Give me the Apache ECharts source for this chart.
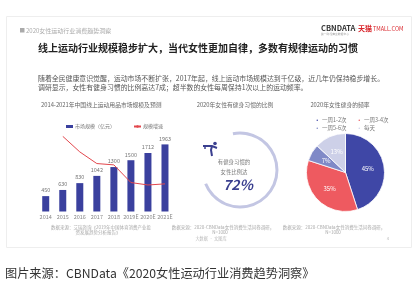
<!DOCTYPE html>
<html><head><meta charset="utf-8">
<script src="https://cdn.jsdelivr.net/npm/echarts@6/dist/echarts.min.js"></script>
<style>html,body{margin:0;padding:0;background:#fff}#c{width:417px;height:295px}</style>
</head><body><div id="c"></div>
<script>
// ---- data ----
const years = ['2014','2015','2016','2017','2018','2019E','2020E','2021E'];
const marketSize = [450, 630, 830, 1042, 1300, 1500, 1712, 1963];
const growthRate = [null, 40, 31.7, 25.5, 24.8, 15.4, 14.1, 14.7];
const habitShare = 72;
const freqNames = ['一周1-2次', '一周3-4次', '一周5-6次', '每天'];
const freqValues = [45, 35, 7, 13];

const F = '"Noto Sans CJK SC","Noto Sans",sans-serif';
const blue = '#3a409e', red = '#e2474d';
const pieColors = ['#3f47a6', '#ee5a60', '#7f89c7', '#cdd0e8'];

function txt(x, y, s, size, color, opt) {
  return Object.assign({ type: 'text', x: x, y: y, silent: true,
    style: Object.assign({ text: s, fontSize: size, fill: color, fontFamily: F,
      textVerticalAlign: 'middle', textAlign: 'left' }, (opt && opt.style) || {}) }, opt && opt.z ? { z: opt.z } : {});
}
const legPos = [[309.5, 112.5], [351.5, 112.5], [309.5, 120.5], [351.5, 120.5]];
const pieLegends = freqNames.map((n, i) => ({
  data: [n], left: legPos[i][0], top: legPos[i][1], icon: 'circle',
  itemWidth: 3.5, itemHeight: 3.5, textStyle: { fontSize: 5.5, color: '#777', padding: [0, 0, 0, -2] }
}));

const chart = echarts.init(document.getElementById('c'), null, { renderer: 'canvas' });
chart.setOption({
  animation: false,
  textStyle: { fontFamily: F },
  grid: [{ left: 37.2, width: 136.3, top: 136.3, height: 75.2 }],
  legend: [
    { data: [{ name: '市场规模（亿元）', icon: 'rect' }, { name: '规模增速' }],
      left: 61, top: 119, itemWidth: 7, itemHeight: 3, itemGap: 18,
      textStyle: { fontSize: 5, color: '#777', padding: [0, 0, 0, -3] } }
  ].concat(pieLegends),
  xAxis: [{ type: 'category', data: years, gridIndex: 0,
    axisLine: { show: false }, axisTick: { show: false },
    axisLabel: { fontSize: 5.5, color: '#888', margin: 3, interval: 0 } }],
  yAxis: [
    { type: 'value', min: 0, max: 2200, show: false, splitLine: { show: false } },
    { type: 'value', min: 0, max: 40, show: false, splitLine: { show: false } }
  ],
  series: [
    { name: '市场规模（亿元）', type: 'bar', data: marketSize, barWidth: 7,
      itemStyle: { color: blue },
      label: { show: true, position: 'top', fontSize: 5.5, color: '#777', distance: 3 } },
    { name: '规模增速', type: 'line', yAxisIndex: 1, data: growthRate, symbol: 'none',
      lineStyle: { color: red, width: 1 }, itemStyle: { color: red } },
    { name: 'ring', type: 'pie', center: [240, 170], radius: [35.5, 38.5], startAngle: 101,
      silent: true, label: { show: false }, labelLine: { show: false },
      data: [{ value: habitShare, itemStyle: { color: '#c3c6e3' } },
             { value: 100 - habitShare, itemStyle: { color: 'rgba(0,0,0,0)' } }] },
    { name: 'freq', type: 'pie', center: [345.5, 172.5], radius: [0, 39], startAngle: 90,
      itemStyle: { borderColor: '#fff', borderWidth: 0.8 },
      label: { show: true, position: 'inside', formatter: '{c}%', fontSize: 6, color: '#fff' },
      labelLine: { show: false },
      data: freqNames.map((n, i) => ({ name: n, value: freqValues[i], itemStyle: { color: pieColors[i] } })) }
  ],
  graphic: [
    { type: 'rect', shape: { x: 6.5, y: 16.5, width: 405, height: 231 }, style: { fill: 'none', stroke: '#eeeeee', lineWidth: 1 }, silent: true, z: -1 },
    { type: 'rect', shape: { x: 20, y: 28, width: 4.5, height: 4.5 }, style: { fill: '#aaa' }, silent: true },
    txt(26, 30.5, '2020女性运动行业消费趋势洞察', 6, '#aaa'),
    txt(321, 28, 'CBNDATA', 7.5, '#333', { style: { fontWeight: 'bold' } }),
    txt(321, 33.5, '第一财经商业数据中心', 2.8, '#999'),
    txt(353, 28.5, '·', 6, '#ccc'),
    txt(358, 28, '天猫', 7, '#d9262c', { style: { fontWeight: 'bold' } }),
    txt(373, 28.5, 'TMALL.COM', 5.5, '#d9262c'),
    txt(38, 48, '线上运动行业规模稳步扩大，当代女性更加自律，多数有规律运动的习惯', 10, '#222', { style: { fontWeight: 'bold' } }),
    txt(38, 78, '随着全民健康意识觉醒，运动市场不断扩张，2017年起，线上运动市场规模达到千亿级，近几年仍保持稳步增长。', 6.9, '#555'),
    txt(38, 87.5, '调研显示，女性有健身习惯的比例高达7成；超半数的女性每周保持1次以上的运动频率。', 6.9, '#555'),
    txt(41, 105, '2014-2021年中国线上运动用品市场规模及预测', 5.8, '#666'),
    txt(235, 105, '2020年女性有健身习惯的比例', 5.8, '#666', { style: { textAlign: 'center' } }),
    txt(340, 105, '2020年女性健身的频率', 5.8, '#666', { style: { textAlign: 'center' } }),
    // icon
    { type: 'circle', shape: { cx: 215, cy: 143.5, r: 1.8 }, style: { fill: '#3a3f8f' }, silent: true },
    { type: 'polyline', shape: { points: [[203, 146], [212, 146], [217, 148]] }, style: { stroke: '#3a3f8f', lineWidth: 2, fill: 'none' }, silent: true },
    { type: 'polyline', shape: { points: [[205, 146], [205, 149]] }, style: { stroke: '#3a3f8f', lineWidth: 1.5, fill: 'none' }, silent: true },
    { type: 'polyline', shape: { points: [[212, 146], [211, 150], [212, 156]] }, style: { stroke: '#3a3f8f', lineWidth: 2, fill: 'none' }, silent: true },
    txt(234, 162, '有健身习惯的', 5.4, '#777', { style: { textAlign: 'center' } }),
    txt(234, 171.7, '女性比例达', 5.4, '#777', { style: { textAlign: 'center' } }),
    txt(238, 184.5, habitShare + '%', 14, '#3a3f8f', { style: { textAlign: 'center', fontWeight: 'bold', fontStyle: 'italic' } }),
    txt(101, 227, '数据来源：艾瑞咨询《2019年中国体育消费产业投', 4.5, '#aaa', { style: { textAlign: 'center' } }),
    txt(98, 232, '资发展趋势分析报告》', 4.5, '#aaa', { style: { textAlign: 'center' } }),
    txt(223, 227, '数据来源：2020-CBNData女性消费生活问卷调研，', 4.5, '#aaa', { style: { textAlign: 'center' } }),
    txt(220, 232, 'N=1000', 4.5, '#aaa', { style: { textAlign: 'center' } }),
    txt(334, 227, '数据来源：2020-CBNData女性消费生活问卷调研，', 4.5, '#aaa', { style: { textAlign: 'center' } }),
    txt(333, 232, 'N=1000', 4.5, '#aaa', { style: { textAlign: 'center' } }),
    txt(211, 238, '大数据 · 文图库', 4.2, '#bbb', { style: { textAlign: 'center' } }),
    txt(388, 238, '4', 4.2, '#bbb', { style: { textAlign: 'center' } }),
    txt(5, 273, '图片来源：CBNData《2020女性运动行业消费趋势洞察》', 12.2, '#333')
  ]
});
</script></body></html>
